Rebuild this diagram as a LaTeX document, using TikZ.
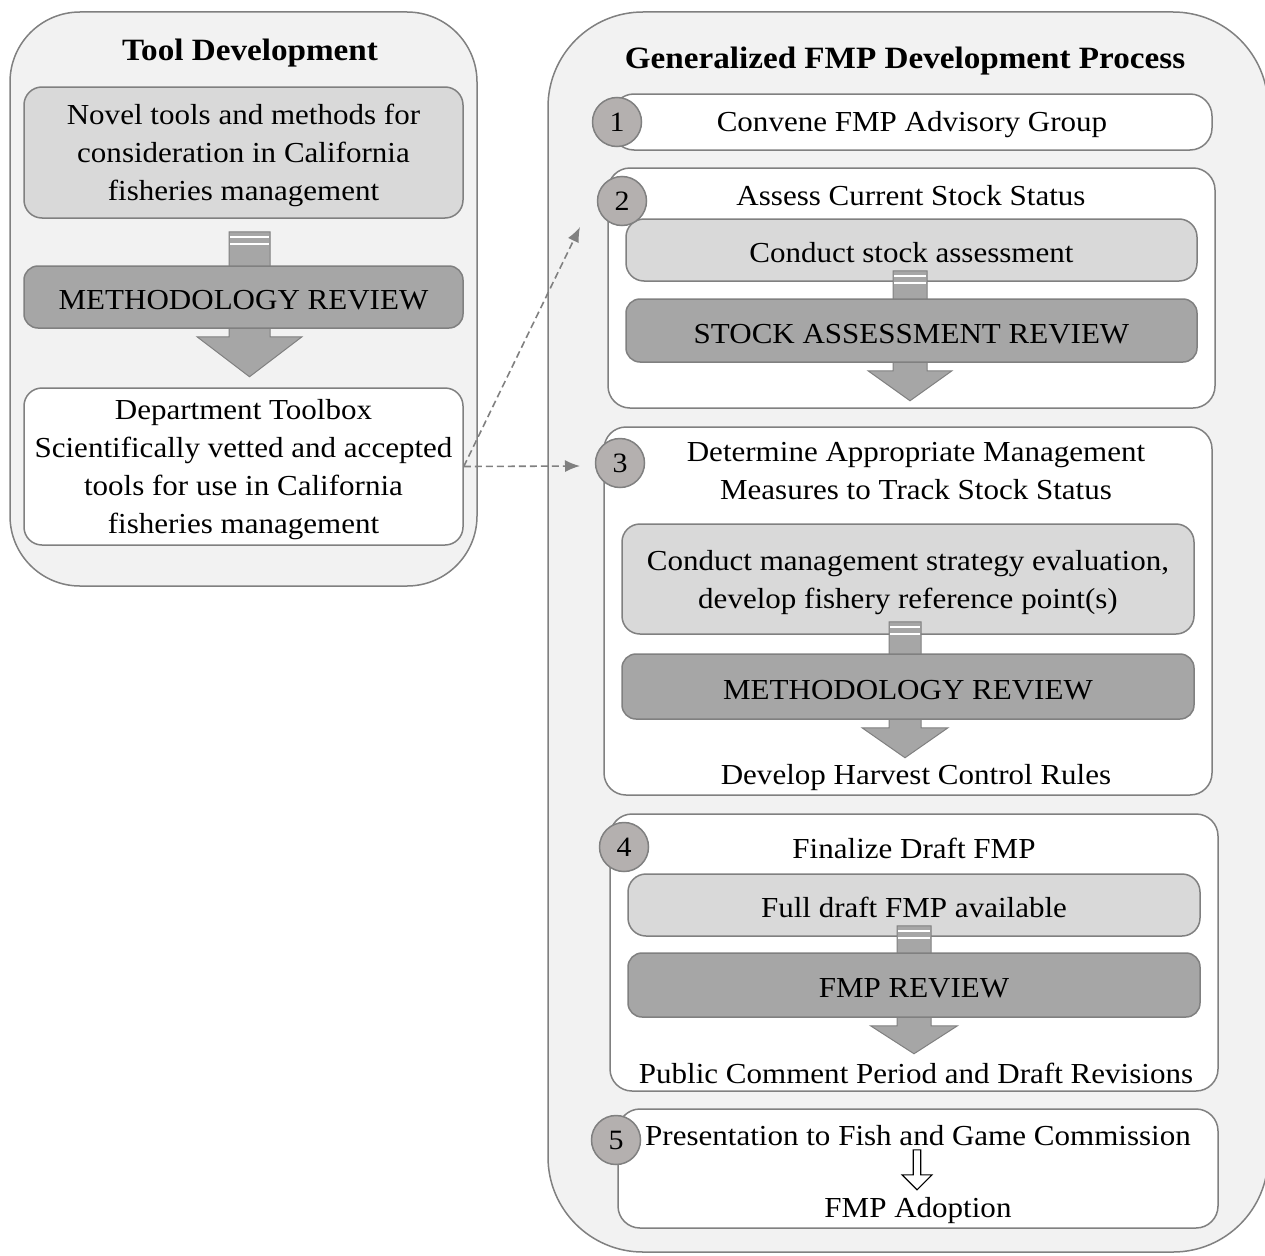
\documentclass[tikz,border=0pt]{standalone}
\usepackage{fontspec}
\setmainfont[FakeStretch=1.07]{Liberation Serif}
\usepackage{tikz}
\usetikzlibrary{arrows.meta,calc,shapes.arrows}

\definecolor{panelgray}{HTML}{F2F2F2}
\definecolor{linegray}{HTML}{808080}
\definecolor{lightfill}{HTML}{D9D9D9}
\definecolor{reviewfill}{HTML}{A6A6A6}
\definecolor{numfill}{HTML}{B4B0AF}

\pgfdeclarelayer{back}
\pgfdeclarelayer{front}
\pgfsetlayers{back,main,front}

% block arrow: striped stub from #1, head below review node #2
\newcommand{\reviewarrow}[5]{%
    \filldraw[fill=reviewfill, draw=linegray, line width=1pt]
        let \p1=#1, \p2=(#2.south) in
        (\x1-#3,\y1) -- (\x1-#3,\y2-8pt) -- (\x1-#4,\y2-8pt) -- (\x1,\y2-#5)
        -- (\x1+#4,\y2-8pt) -- (\x1+#3,\y2-8pt) -- (\x1+#3,\y1) -- cycle;
    \draw[white, line width=2pt] let \p1=#1 in
        (\x1-#3+1pt,\y1-5pt) -- (\x1+#3-1pt,\y1-5pt)
        (\x1-#3+1pt,\y1-12pt) -- (\x1+#3-1pt,\y1-12pt);
}

\begin{document}
\begin{tikzpicture}[x=1pt, y=-1pt,
    every node/.style={font=\fontsize{29}{38}\selectfont, align=center},
    down/.style={text height=26pt},
    multidown/.style={text depth=-4pt},
    panel/.style={draw=linegray, fill=panelgray, line width=1.5pt, inner sep=0pt},
    stepbox/.style={draw=linegray, fill=white, line width=1.5pt, rounded corners=22pt, inner sep=0pt},
    lightbox/.style={draw=linegray, fill=lightfill, line width=1.5pt, rounded corners=18pt, inner sep=0pt},
    reviewbox/.style={draw=linegray, fill=reviewfill, line width=1.5pt, rounded corners=14pt, inner sep=0pt, down},
    stepnum/.style={circle, draw=linegray, fill=numfill, line width=1.5pt, minimum size=49pt, inner sep=0pt, font=\fontsize{28}{28}\selectfont},
    heading/.style={font=\fontsize{31}{38}\selectfont\bfseries, down},
    link/.style={draw=linegray, line width=1.6pt, dash pattern=on 7pt off 4pt, -{Latex[length=15pt,width=12pt]}}
]
\useasboundingbox (0,0) rectangle (1265,1255);

\begin{pgfonlayer}{back}
    \node[panel, rounded corners=70pt, minimum width=467pt, minimum height=574pt] (toolpanel) at (243.5,299) {};
    \node[panel, rounded corners=95pt, minimum width=720pt, minimum height=1240pt] (fmppanel) at (908,632) {};

    \node[stepbox, minimum width=600pt, minimum height=56pt] (step1) at (912,122) {};
    \node[stepbox, minimum width=607pt, minimum height=240pt] (step2) at (911.5,288) {};
    \node[stepbox, minimum width=608pt, minimum height=368pt] (step3) at (908,611) {};
    \node[stepbox, minimum width=608pt, minimum height=277pt] (step4) at (914,952.5) {};
    \node[stepbox, minimum width=600pt, minimum height=119pt] (step5) at (918,1168.5) {};
\end{pgfonlayer}

% tool development
\node[heading] (tooltitle) at (250,51) {Tool Development};
\node[lightbox, multidown, minimum width=439pt, minimum height=131pt] (novel) at (243.5,152.5)
    {Novel tools and methods for\\ consideration in California\\ fisheries management};
\node[stepbox, multidown, rounded corners=18pt, minimum width=439pt, minimum height=157pt] (toolbox) at (243.5,466.5)
    {Department Toolbox\\ Scientifically vetted and accepted\\ tools for use in California\\ fisheries management};

% generalized process
\node[heading] (fmptitle) at (905,59) {Generalized FMP Development Process};

\node[down] (convene) at (912,122) {Convene FMP Advisory Group};

\node[down] (assesstitle) at (911,193) {Assess Current Stock Status};
\node[lightbox, down, minimum width=571pt, minimum height=62pt] (assess) at (911.5,250) {Conduct stock assessment};

\node[text depth=0pt] (measures) at (916,471) {Determine Appropriate Management\\ Measures to Track Stock Status};
\node[lightbox, multidown, minimum width=572pt, minimum height=110pt] (mse) at (908,579)
    {Conduct management strategy evaluation,\\ develop fishery reference point(s)};
\node[down] (hcr) at (916,775) {Develop Harvest Control Rules};

\node[down] (finalize) at (914,846) {Finalize Draft FMP};
\node[lightbox, down, minimum width=572pt, minimum height=62pt] (fulldraft) at (914,905) {Full draft FMP available};
\node[down] (comment) at (916,1071) {Public Comment Period and Draft Revisions};

\node[down] (present) at (918,1133) {Presentation to Fish and Game Commission};
\node[single arrow, draw=black, fill=white, line width=1.2pt, shape border rotate=270,
      minimum height=40pt, minimum width=30pt, single arrow head extend=8pt,
      inner sep=2pt] (adoptarrow) at (917,1168) {};
\node[down] (adoption) at (918,1208) {FMP Adoption};

\begin{pgfonlayer}{front}
    \node[reviewbox, minimum width=439pt, minimum height=62pt] (methreview) at (243.5,297) {METHODOLOGY REVIEW};
    \node[reviewbox, minimum width=571pt, minimum height=63pt] (stockreview) at (911.5,330.5) {STOCK ASSESSMENT REVIEW};
    \node[reviewbox, minimum width=572pt, minimum height=65pt] (mseview) at (908,686.5) {METHODOLOGY REVIEW};
    \node[reviewbox, minimum width=572pt, minimum height=64pt] (fmpreview) at (914,985) {FMP REVIEW};

    \node[stepnum] (num1) at (617,122) {1};
    \node[stepnum] (num2) at (622,201) {2};
    \node[stepnum] (num3) at (620,463) {3};
    \node[stepnum] (num4) at (624,847) {4};
    \node[stepnum] (num5) at (616,1140) {5};
\end{pgfonlayer}

\reviewarrow{([xshift=6pt,yshift=-13pt]novel.south)}{methreview}{20.5pt}{52.5pt}{48pt}
\reviewarrow{([xshift=-1.5pt,yshift=11pt]assess.south)}{stockreview}{17pt}{42pt}{38pt}
\reviewarrow{([xshift=-3pt,yshift=13pt]mse.south)}{mseview}{16pt}{43pt}{38pt}
\reviewarrow{([yshift=11pt]fulldraft.south)}{fmpreview}{17pt}{43.5pt}{36pt}

\coordinate (to2) at (580,227);
\coordinate (to3) at (580,466);
\draw[link] (toolbox.east) -- (to2);
\draw[link] (toolbox.east) -- (to3);
\end{tikzpicture}
\end{document}
